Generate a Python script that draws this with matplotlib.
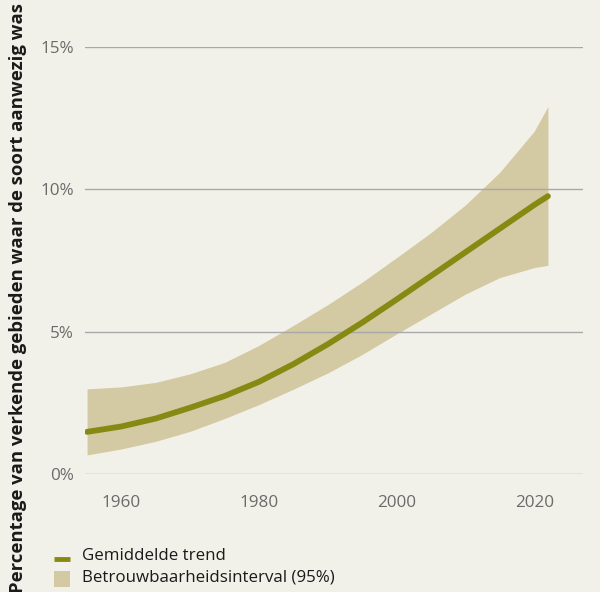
import matplotlib
matplotlib.use("Agg")
import matplotlib.pyplot as plt
from matplotlib.lines import Line2D
from matplotlib.patches import Rectangle

plt.rcParams['font.family'] = ['Open Sans', 'DejaVu Sans']

years = [1955, 1960, 1965, 1970, 1975, 1980, 1985, 1990, 1995, 2000, 2005, 2010, 2015, 2020, 2022]
trend = [1.48, 1.67, 1.95, 2.33, 2.74, 3.24, 3.86, 4.56, 5.32, 6.13, 6.96, 7.79, 8.62, 9.45, 9.76]
upper = [2.99, 3.06, 3.22, 3.52, 3.92, 4.52, 5.22, 5.95, 6.74, 7.60, 8.48, 9.45, 10.60, 12.04, 12.91]
lower = [0.67, 0.88, 1.15, 1.50, 1.95, 2.44, 2.98, 3.55, 4.20, 4.92, 5.62, 6.32, 6.90, 7.25, 7.33]

x_ticks = [1960, 1980, 2000, 2020]
y_ticks = [0, 5, 10, 15]
y_tick_labels = ['0%', '5%', '10%', '15%']

ylabel = 'Percentage van verkende gebieden waar de soort aanwezig was'
legend_labels = ['Gemiddelde trend', 'Betrouwbaarheidsinterval (95%)']

bg = '#f2f1e9'
band_color = '#d3c9a3'
line_color = '#878a12'
grid_color = '#a8a8a8'
tick_color = '#6b6b6b'

fig = plt.figure(figsize=(6.0, 5.92), dpi=100, facecolor=bg)
ax = fig.add_axes([85/600, 1-474/592, (583-85)/600, (474-47)/592])
ax.set_facecolor(bg)

ax.fill_between(years, lower, upper, color=band_color, linewidth=0, zorder=1)
for yt in y_ticks:
    ax.axhline(yt, color=grid_color, linewidth=1.0, zorder=2)
ax.plot(years, trend, color=line_color, linewidth=4.2, solid_capstyle='round',
        solid_joinstyle='round', zorder=3)

ax.set_xlim(1954.7, 2027.1)
ax.set_ylim(0, 15)
ax.set_xticks(x_ticks)
ax.set_yticks(y_ticks)
ax.set_yticklabels(y_tick_labels)
ax.tick_params(axis='both', length=0, labelsize=12.3, colors=tick_color)
ax.tick_params(axis='x', pad=15)
ax.tick_params(axis='y', pad=8)
for s in ax.spines.values():
    s.set_visible(False)

fig.text(18/600, 1-298/592, ylabel, rotation=90, ha='center', va='center',
         fontsize=13.3, fontweight='bold', color='#1a1a1a')

# legend
fig.add_artist(Line2D([54/600, 70/600], [1-559/592, 1-559/592], color=line_color,
                      linewidth=3.5, solid_capstyle='butt'))
fig.add_artist(Rectangle((54/600, 1-587/592), 16/600, 16/592, facecolor=band_color,
                         edgecolor='none'))
fig.text(82/600, 1-556/592, legend_labels[0], ha='left', va='center', fontsize=12.2, color='#1a1a1a')
fig.text(82/600, 1-578/592, legend_labels[1], ha='left', va='center', fontsize=12.2, color='#1a1a1a')

fig.savefig('out.png', dpi=100, facecolor=bg)
